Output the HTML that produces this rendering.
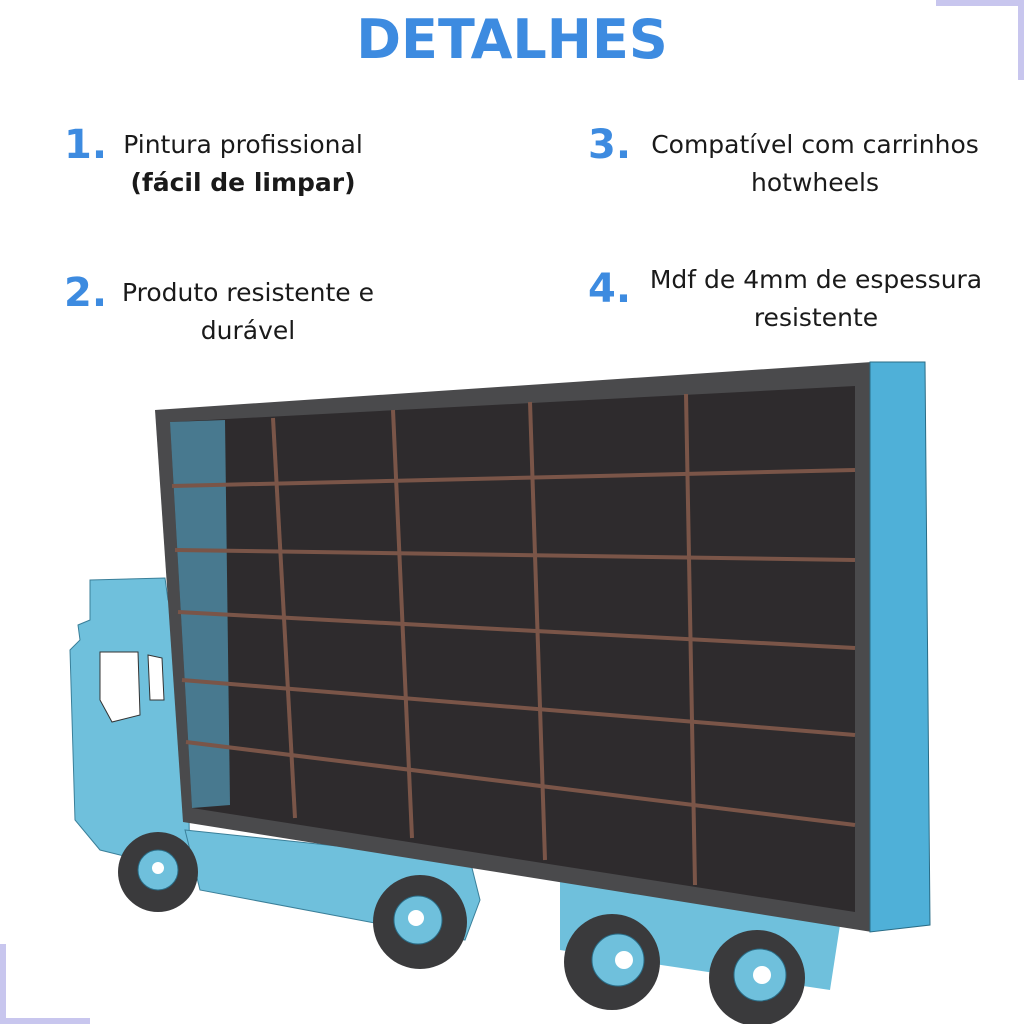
<!DOCTYPE html>
<html><head><meta charset="utf-8"><style>
html,body{margin:0;padding:0;background:#fff}
body{width:1024px;height:1024px;position:relative;overflow:hidden;font-family:"DejaVu Sans","Liberation Sans",sans-serif;color:#1a1a1a}
.t{position:absolute;font-size:25px;text-align:center;line-height:38px}
.n{position:absolute;font-size:40px;font-weight:bold;color:#3d8be0}
h1{position:absolute;top:8px;left:0;width:1024px;text-align:center;margin:0;font-size:54px;color:#3d8be0}
</style></head><body>
<div style="position:absolute;right:0;top:0;width:88px;height:6px;background:#c8c6ee"></div>
<div style="position:absolute;right:0;top:0;width:6px;height:80px;background:#c8c6ee"></div>
<div style="position:absolute;left:0;bottom:0;width:90px;height:80px;border-left:6px solid #c8c6ee;border-bottom:6px solid #c8c6ee;box-sizing:border-box"></div>
<h1>DETALHES</h1>
<div class="n" style="left:64px;top:122px">1.</div>
<div class="t" style="left:93px;width:300px;top:126px">Pintura profissional<br><b>(fácil de limpar)</b></div>
<div class="n" style="left:588px;top:122px">3.</div>
<div class="t" style="left:630px;width:370px;top:126px">Compatível com carrinhos<br>hotwheels</div>
<div class="n" style="left:64px;top:270px">2.</div>
<div class="t" style="left:90px;width:316px;top:274px">Produto resistente e<br>durável</div>
<div class="n" style="left:588px;top:266px">4.</div>
<div class="t" style="left:630px;width:372px;top:261px">Mdf de 4mm de espessura<br>resistente</div>
<svg width="1024" height="1024" style="position:absolute;left:0;top:0">
<path d="M90,580 L165,578 L168,600 L185,610 L190,870 L140,860 L100,850 L75,820 L70,650 L80,640 L78,625 L90,620 Z" fill="#6fc0dc" stroke="#3a7f99" stroke-width="1"/>
<path d="M100,652 L138,652 L140,715 L112,722 L100,700 Z" fill="#fff" stroke="#333"/>
<path d="M148,655 L162,658 L164,700 L150,700 Z" fill="#fff" stroke="#333"/>
<path d="M185,830 L470,860 L480,900 L465,940 L200,890 Z" fill="#6fc0dc" stroke="#3a7f99"/>
<path d="M560,880 L840,925 L830,990 L560,950 Z" fill="#6fc0dc"/>
<g fill="#3a3a3c"><circle cx="158" cy="872" r="40"/><circle cx="420" cy="922" r="47"/><circle cx="612" cy="962" r="48"/><circle cx="757" cy="978" r="48"/></g>
<g fill="#6fc0dc" stroke="#2a6c86"><circle cx="158" cy="870" r="20"/><circle cx="418" cy="920" r="24"/><circle cx="618" cy="960" r="26"/><circle cx="760" cy="975" r="26"/></g>
<g fill="#fff"><circle cx="158" cy="868" r="6"/><circle cx="416" cy="918" r="8"/><circle cx="624" cy="960" r="9"/><circle cx="762" cy="975" r="9"/></g>
<polygon points="155,410 872,362 872,932 183,822" fill="#4a4a4c"/>
<polygon points="170,422 855,386 855,912 192,808" fill="#2e2b2d"/>
<polygon points="170,422 225,420 230,805 192,808" fill="#5aaed0" opacity="0.6"/>
<g stroke="#7a5548" stroke-width="4">
<line x1="172" y1="486" x2="855" y2="470"/>
<line x1="175" y1="550" x2="855" y2="560"/>
<line x1="178" y1="612" x2="855" y2="648"/>
<line x1="182" y1="680" x2="855" y2="735"/>
<line x1="186" y1="742" x2="855" y2="825"/>
<line x1="273" y1="418" x2="295" y2="818"/>
<line x1="393" y1="410" x2="412" y2="838"/>
<line x1="530" y1="402" x2="545" y2="860"/>
<line x1="686" y1="394" x2="695" y2="885"/>
</g>
<polygon points="870,362 925,362 930,925 870,932" fill="#4fb0d8" stroke="#2a6c86"/>
</svg>
</body></html>
